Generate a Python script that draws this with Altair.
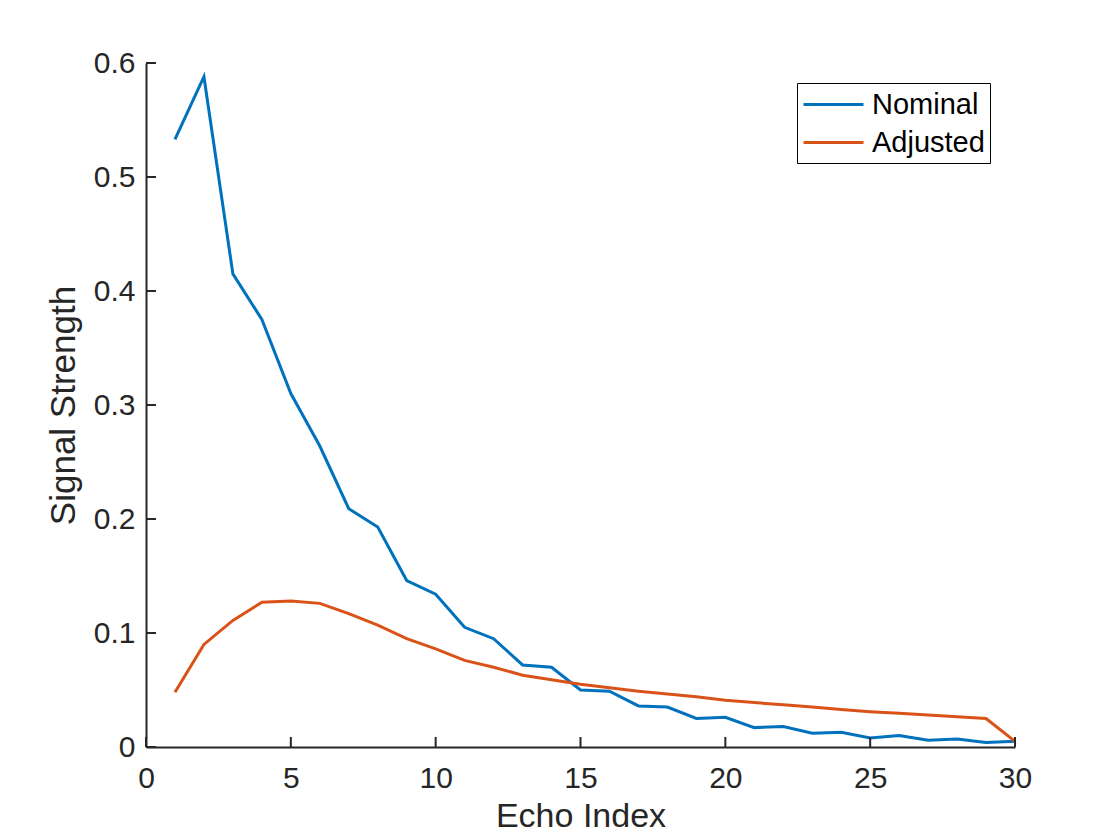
import altair as alt
import pandas as pd

echo_index = list(range(1, 31))
nominal = [0.533, 0.588, 0.415, 0.375, 0.310, 0.264, 0.209, 0.193, 0.146, 0.134,
           0.105, 0.095, 0.072, 0.070, 0.050, 0.049, 0.036, 0.035, 0.025, 0.026,
           0.017, 0.018, 0.012, 0.013, 0.008, 0.010, 0.006, 0.007, 0.004, 0.005]
adjusted = [0.048, 0.090, 0.111, 0.127, 0.128, 0.126, 0.117, 0.107, 0.095, 0.086,
            0.076, 0.070, 0.063, 0.059, 0.055, 0.052, 0.049, 0.0465, 0.044, 0.041,
            0.039, 0.037, 0.035, 0.033, 0.031, 0.0295, 0.028, 0.0265, 0.025, 0.005]
series_names = ["Nominal", "Adjusted"]
series_colors = ["#0072BD", "#D95319"]
x_ticks = [0, 5, 10, 15, 20, 25, 30]
y_ticks = [0, 0.1, 0.2, 0.3, 0.4, 0.5, 0.6]

W, H = 869, 684
FONT = "Liberation Sans"
AX = "#262626"

df = pd.DataFrame({
    "x": echo_index * 2,
    "y": nominal + adjusted,
    "series": [series_names[0]] * len(echo_index) + [series_names[1]] * len(echo_index),
})

xscale = alt.Scale(domain=[0, 30], nice=False, zero=False)
yscale = alt.Scale(domain=[0, 0.6], nice=False)

lines = alt.Chart(df).mark_line(strokeWidth=3, clip=True).encode(
    x=alt.X("x:Q", scale=xscale, title="Echo Index",
            axis=alt.Axis(values=x_ticks, format="d", grid=False, ticks=False,
                          labelFlush=False, labelOverlap=False,
                          domainColor=AX, domainWidth=2, labelColor=AX,
                          labelFont=FONT, labelFontSize=30, labelPadding=16,
                          titleFont=FONT, titleFontSize=34, titleFontWeight="normal",
                          titleColor=AX, titlePadding=6)),
    y=alt.Y("y:Q", scale=yscale, title="Signal Strength",
            axis=alt.Axis(values=y_ticks, grid=False, ticks=False,
                          labelFlush=False, labelOverlap=False,
                          labelExpr="datum.value == 0 ? '0' : format(datum.value, '.1f')",
                          domainColor=AX, domainWidth=2, labelColor=AX,
                          labelFont=FONT, labelFontSize=30, labelPadding=11,
                          titleFont=FONT, titleFontSize=35, titleFontWeight="normal",
                          titleColor=AX, titlePadding=12)),
    color=alt.Color("series:N",
                    scale=alt.Scale(domain=series_names, range=series_colors),
                    sort=series_names,
                    legend=alt.Legend(title=None, orient="none", legendX=651, legendY=20,
                                      symbolType="M-1,0H3", symbolSize=900,
                                      symbolStrokeWidth=3, labelFont=FONT,
                                      labelFontSize=29, labelColor="#000000",
                                      labelOffset=37, strokeColor="#000000",
                                      padding=5, rowPadding=6,
                                      fillColor="white")),
)

xt = alt.Chart(pd.DataFrame({"v": x_ticks})).mark_rule(color=AX, strokeWidth=2).encode(
    x=alt.X("v:Q", scale=xscale), y=alt.value(H), y2=alt.value(H - 10))
yt = alt.Chart(pd.DataFrame({"v": y_ticks})).mark_rule(color=AX, strokeWidth=2).encode(
    y=alt.Y("v:Q", scale=yscale), x=alt.value(0), x2=alt.value(10))

chart = alt.layer(lines, xt, yt).properties(
    width=W, height=H,
    autosize=alt.AutoSizeParams(type="none"),
    padding={"left": 138, "top": 55, "right": 97, "bottom": 85},
).configure(background="white").configure_view(stroke=None, strokeWidth=0)

chart.save("out.html", embed_options={"renderer": "svg", "actions": False})
